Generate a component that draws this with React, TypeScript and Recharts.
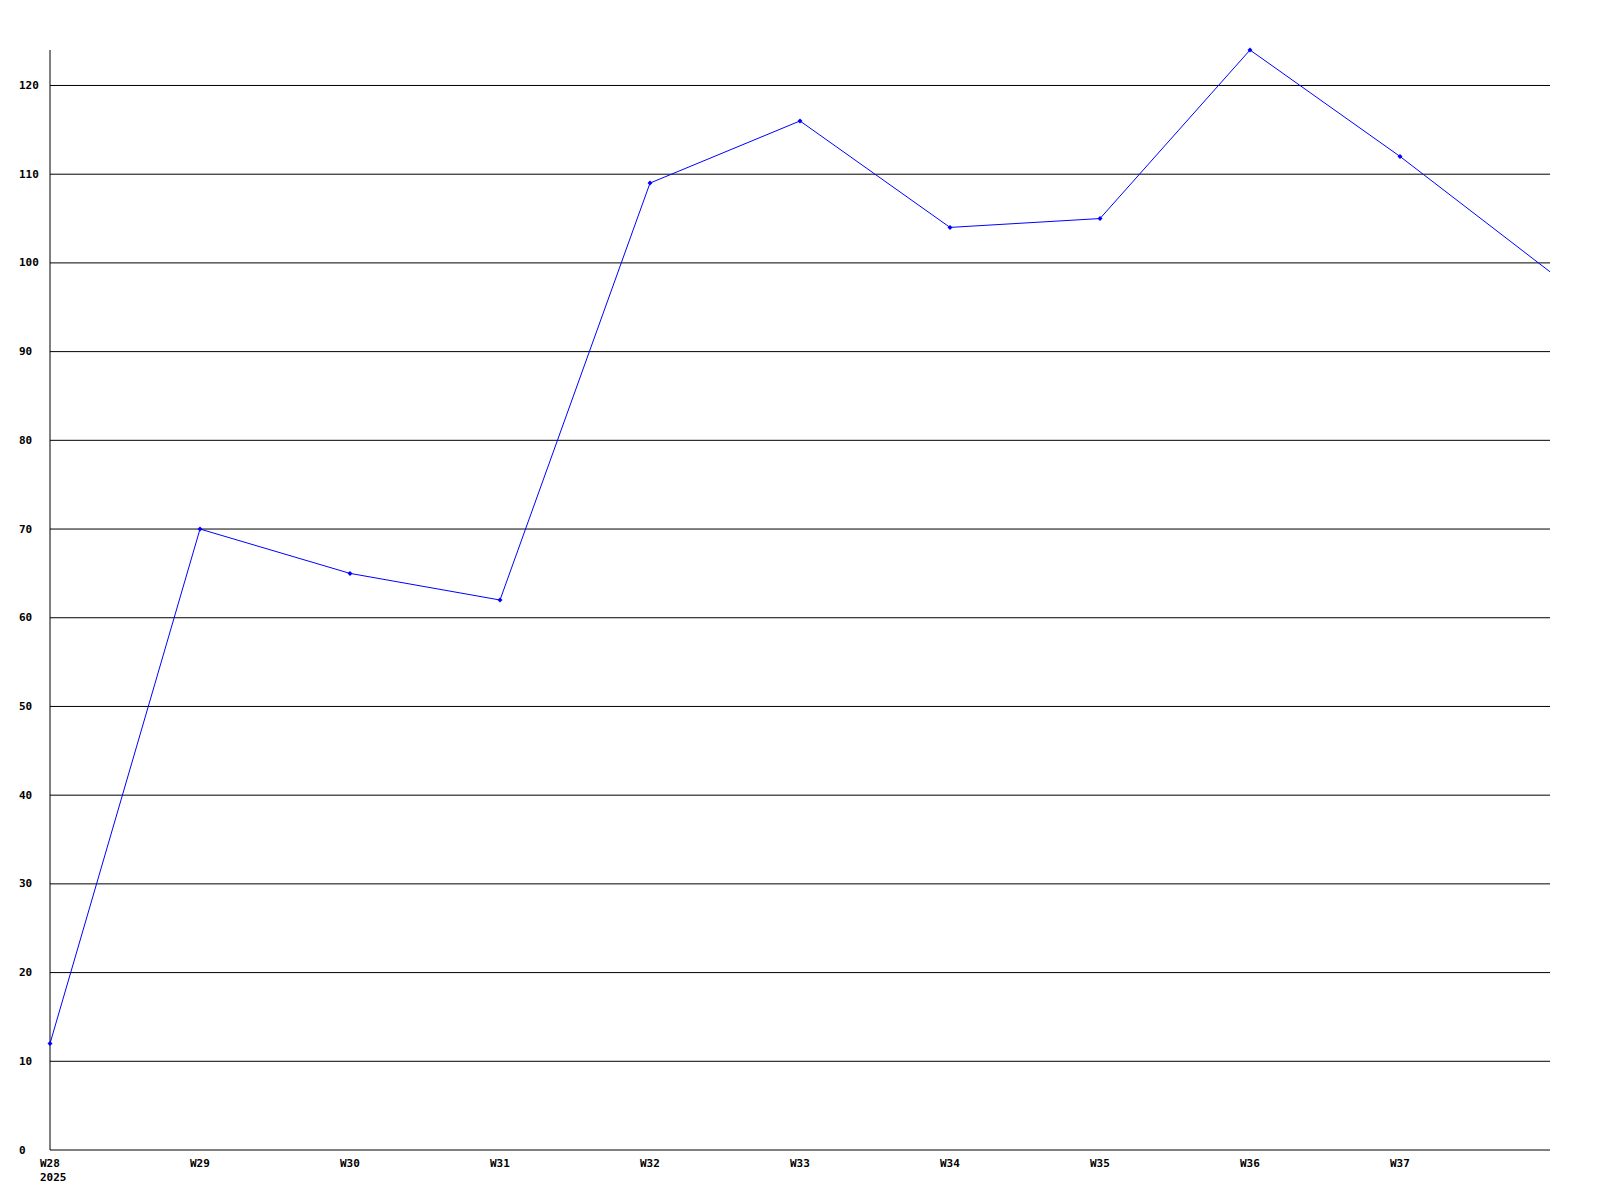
import { CartesianGrid, Line, LineChart, XAxis, YAxis } from "recharts";

const WEEKS = ["W28", "W29", "W30", "W31", "W32", "W33", "W34", "W35", "W36", "W37", "W38"];
const COUNTS = [12, 70, 65, 62, 109, 116, 104, 105, 124, 112, 99];
const Y_TICKS = [0, 10, 20, 30, 40, 50, 60, 70, 80, 90, 100, 110, 120];
const GRID_VALUES = [10, 20, 30, 40, 50, 60, 70, 80, 90, 100, 110, 120];
const X_TICKS = [0, 1, 2, 3, 4, 5, 6, 7, 8, 9];
const YEAR = "2025";

const data = COUNTS.map((v, i) => ({ idx: i, week: WEEKS[i], value: v }));

const FONT = "'DejaVu Sans Mono', monospace";

// labels are left-aligned in the source, not against the axis
const YTick = ({ y, payload }: any) => (
  <text x={19} y={y} textAnchor="start" dominantBaseline="central" fontFamily={FONT} fontWeight="bold" fontSize={11} fill="#000">
    {payload.value}
  </text>
);

const XTick = ({ x, y, payload }: any) => (
  <g>
    <text x={x - 10} y={y + 5} textAnchor="start" dominantBaseline="central" fontFamily={FONT} fontWeight="bold" fontSize={11} fill="#000">
      {WEEKS[payload.value]}
    </text>
    {payload.value === 0 && (
      <text x={x - 10} y={y + 19} textAnchor="start" dominantBaseline="central" fontFamily={FONT} fontWeight="bold" fontSize={11} fill="#000">
        {YEAR}
      </text>
    )}
  </g>
);

const Marker = ({ cx, cy, index }: any) =>
  index === COUNTS.length - 1 ? (
    <g />
  ) : (
    <path d={`M${cx - 2.5},${cy} L${cx},${cy - 2.5} L${cx + 2.5},${cy} L${cx},${cy + 2.5} Z`} fill="#0000ff" />
  );

export default function App() {
  return (
    <div style={{ position: "absolute", left: 0, top: 0, background: "#fff" }}>
      <LineChart width={1600} height={1200} data={data} margin={{ top: 50, right: 50, left: 0, bottom: 0 }}>
        <CartesianGrid
          horizontal
          vertical={false}
          stroke="#000"
          strokeWidth={1}
          horizontalValues={GRID_VALUES}
        />
        <XAxis
          dataKey="idx"
          type="number"
          domain={[0, 10]}
          ticks={X_TICKS}
          height={50}
          tickLine={false}
          axisLine={{ stroke: "#000" }}
          tick={<XTick />}
          interval={0}
        />
        <YAxis
          type="number"
          domain={[0, 124]}
          ticks={Y_TICKS}
          width={50}
          tickLine={false}
          axisLine={{ stroke: "#000" }}
          tick={<YTick />}
          interval={0}
        />
        <Line
          type="linear"
          dataKey="value"
          stroke="#0000ff"
          strokeWidth={1}
          dot={<Marker />}
          activeDot={false}
          isAnimationActive={false}
        />
      </LineChart>
    </div>
  );
}
